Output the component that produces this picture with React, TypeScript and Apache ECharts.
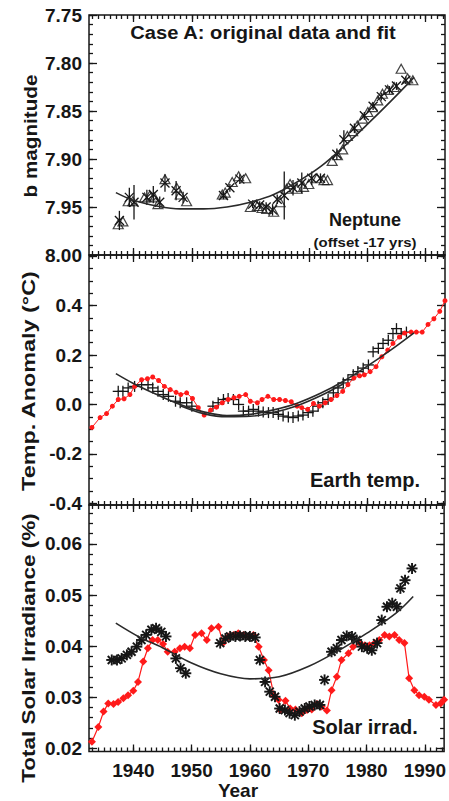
import React, { useEffect, useRef } from 'react';
import * as echarts from 'echarts';

// ---------------- data ----------------
// Panel 1: Neptune b magnitude (offset -17 yrs)
const NEP_TRI: [number, number][] = [
  [1937.4, 7.968], [1938.2, 7.965], [1939.1, 7.944], [1939.9, 7.944], [1941.9, 7.940], [1942.8, 7.938],
  [1943.6, 7.940], [1944.2, 7.947], [1945.4, 7.921], [1947.4, 7.930], [1948.0, 7.937], [1949.1, 7.944],
  [1955.2, 7.937], [1955.7, 7.935], [1956.9, 7.924], [1958.0, 7.918], [1959.2, 7.920], [1960.0, 7.950],
  [1961.2, 7.949], [1962.0, 7.951], [1962.8, 7.952], [1964.0, 7.955], [1965.1, 7.945], [1966.2, 7.931],
  [1966.8, 7.926], [1968.0, 7.931], [1969.1, 7.929], [1970.0, 7.926], [1971.4, 7.920], [1972.6, 7.922],
  [1973.2, 7.922], [1974.0, 7.902], [1974.9, 7.896], [1975.8, 7.890], [1976.6, 7.876], [1977.5, 7.871],
  [1978.3, 7.865], [1979.2, 7.858], [1980.1, 7.851], [1980.9, 7.846], [1981.8, 7.839], [1982.6, 7.832],
  [1983.5, 7.828], [1984.6, 7.825], [1985.8, 7.806], [1986.9, 7.816], [1987.8, 7.818],
];
// [year, magnitude, error]
const NEP_X: [number, number, number][] = [
  [1937.6, 7.964, 0.010], [1939.3, 7.940, 0.010], [1940.1, 7.945, 0.018], [1942.3, 7.940, 0.008],
  [1943.4, 7.937, 0.009], [1944.5, 7.945, 0.006], [1945.4, 7.925, 0.009], [1947.3, 7.933, 0.010],
  [1948.5, 7.940, 0.006], [1955.4, 7.938, 0.004], [1956.5, 7.930, 0.004], [1958.2, 7.921, 0.005],
  [1960.4, 7.947, 0.004], [1961.6, 7.948, 0.004], [1962.7, 7.950, 0.005], [1963.8, 7.953, 0.006],
  [1964.6, 7.942, 0.005], [1965.8, 7.938, 0.025], [1967.3, 7.930, 0.008], [1968.8, 7.925, 0.011],
  [1970.5, 7.920, 0.007], [1972.0, 7.920, 0.005], [1974.8, 7.895, 0.006], [1976.0, 7.880, 0.010],
  [1977.8, 7.868, 0.005], [1979.5, 7.855, 0.004], [1981.0, 7.845, 0.004], [1982.4, 7.835, 0.004],
  [1983.8, 7.828, 0.004], [1985.0, 7.824, 0.004], [1986.6, 7.818, 0.004],
];
const NEP_FIT: [number, number][] = [
  [1937, 7.935], [1940, 7.943], [1944, 7.949], [1948, 7.952], [1952, 7.952], [1956, 7.950], [1960, 7.945],
  [1964, 7.937], [1968, 7.924], [1972, 7.908], [1976, 7.887], [1980, 7.864], [1984, 7.840], [1988, 7.815],
];

// Panel 2: Earth temperature anomaly
const TEMP_RED: [number, number][] = [
  [1932.9, -0.093], [1934.3, -0.053], [1935.4, -0.037], [1936.4, -0.007], [1937.4, 0.020], [1938.4, 0.023],
  [1939.4, 0.040], [1940.2, 0.073], [1941.4, 0.100], [1942.4, 0.104], [1943.3, 0.111], [1944.3, 0.097],
  [1945.3, 0.073], [1946.3, 0.060], [1947.3, 0.049], [1948.1, 0.040], [1949.1, 0.047], [1950.1, 0.024],
  [1951.1, -0.013], [1952.1, -0.043], [1953.2, -0.023], [1954.2, -0.011], [1955.2, 0.007], [1956.2, 0.020],
  [1957.2, 0.027], [1958.1, 0.033], [1959.2, 0.040], [1960.0, 0.013], [1961.2, 0.007], [1962.0, 0.020],
  [1963.0, 0.033], [1964.0, 0.020], [1965.0, 0.020], [1966.0, 0.016], [1967.0, 0.011], [1968.0, -0.007],
  [1968.8, -0.013], [1969.8, -0.020], [1970.8, 0.004], [1971.8, -0.007], [1972.8, 0.007], [1973.8, 0.020],
  [1974.8, 0.036], [1975.8, 0.053], [1976.7, 0.080], [1977.7, 0.107], [1978.7, 0.116], [1979.5, 0.120],
  [1980.5, 0.133], [1981.5, 0.153], [1982.5, 0.193], [1983.5, 0.220], [1984.4, 0.247], [1985.5, 0.273],
  [1986.4, 0.289], [1987.5, 0.293], [1988.4, 0.293], [1989.4, 0.293], [1990.4, 0.324], [1991.4, 0.347],
  [1992.4, 0.377], [1993.3, 0.420],
];
const TEMP_PLUS: [number, number][] = [
  [1937.4, 0.053], [1938.2, 0.053], [1939.1, 0.067], [1940.2, 0.073], [1941.4, 0.080], [1942.5, 0.080],
  [1943.3, 0.067], [1944.2, 0.053], [1945.1, 0.040], [1946.0, 0.033], [1947.2, 0.013], [1948.0, 0.007],
  [1949.1, 0.007], [1950.0, -0.007], [1953.6, -0.007], [1954.5, 0.007], [1955.4, 0.020], [1956.2, 0.024],
  [1957.1, 0.020], [1958.0, 0.000], [1958.8, -0.027], [1959.7, -0.027], [1960.5, -0.020], [1961.4, -0.027],
  [1962.2, -0.031], [1963.1, -0.033], [1963.9, -0.033], [1964.8, -0.040], [1965.6, -0.047], [1966.5, -0.051],
  [1967.3, -0.053], [1968.2, -0.047], [1969.0, -0.043], [1969.9, -0.033], [1970.7, -0.027], [1971.6, -0.007],
  [1972.4, 0.007], [1973.3, 0.020], [1974.2, 0.047], [1975.0, 0.067], [1975.9, 0.087], [1976.7, 0.100],
  [1977.6, 0.120], [1978.4, 0.133], [1979.3, 0.147], [1980.2, 0.160], [1981.0, 0.213], [1981.9, 0.227],
  [1982.7, 0.247], [1983.6, 0.260], [1984.4, 0.287], [1985.0, 0.307], [1985.8, 0.287], [1986.7, 0.293],
];
const TEMP_FIT_A: [number, number][] = [
  [1937, 0.125], [1940, 0.085], [1944, 0.040], [1948, 0.000], [1952, -0.030], [1956, -0.045], [1960, -0.040],
  [1964, -0.022], [1968, 0.005], [1972, 0.045], [1976, 0.095], [1980, 0.155], [1984, 0.220], [1988, 0.290],
];
const TEMP_FIT_B: [number, number][] = [
  [1948, -0.005], [1952, -0.037], [1956, -0.050], [1960, -0.048], [1964, -0.032], [1968, -0.005],
  [1972, 0.035], [1976, 0.085],
];

// Panel 3: Total solar irradiance
const TSI_RED: [number, number][] = [
  [1932.9, 0.0213], [1934.0, 0.0242], [1934.9, 0.0272], [1935.7, 0.0288], [1936.6, 0.0287], [1937.4, 0.0291],
  [1938.3, 0.0298], [1939.1, 0.0304], [1940.0, 0.0313], [1940.8, 0.0330], [1941.7, 0.0370], [1942.5, 0.0396],
  [1943.3, 0.0412], [1944.2, 0.0412], [1945.1, 0.0404], [1945.9, 0.0389], [1947.1, 0.0389], [1948.0, 0.0396],
  [1948.8, 0.0399], [1949.7, 0.0396], [1950.6, 0.0422], [1951.7, 0.0425], [1952.6, 0.0412], [1953.4, 0.0435],
  [1954.6, 0.0438], [1955.4, 0.0406], [1956.3, 0.0419], [1957.2, 0.0422], [1958.0, 0.0425], [1958.9, 0.0422],
  [1959.8, 0.0419], [1960.6, 0.0422], [1961.5, 0.0399], [1962.4, 0.0373], [1963.2, 0.0353], [1964.1, 0.0304],
  [1964.9, 0.0295], [1965.2, 0.0275], [1966.1, 0.0293], [1966.9, 0.0278], [1967.8, 0.0276], [1968.9, 0.0269],
  [1969.8, 0.0275], [1970.6, 0.0276], [1971.5, 0.0287], [1972.3, 0.0282], [1973.2, 0.0274], [1974.0, 0.0314],
  [1974.9, 0.0340], [1975.7, 0.0373], [1976.9, 0.0386], [1977.7, 0.0399], [1978.8, 0.0406], [1979.7, 0.0402],
  [1980.5, 0.0402], [1981.4, 0.0406], [1982.2, 0.0412], [1983.1, 0.0422], [1983.9, 0.0419], [1984.8, 0.0422],
  [1985.6, 0.0412], [1986.5, 0.0406], [1987.3, 0.0337], [1988.2, 0.0314], [1989.0, 0.0304], [1989.9, 0.0301],
  [1990.7, 0.0295], [1991.9, 0.0285], [1992.7, 0.0288], [1993.3, 0.0295],
];
const TSI_STAR: [number, number][] = [
  [1936.3, 0.0373], [1937.2, 0.0373], [1938.0, 0.0376], [1938.9, 0.0383], [1939.7, 0.0389], [1940.6, 0.0399],
  [1941.4, 0.0412], [1942.2, 0.0422], [1943.1, 0.0432], [1943.9, 0.0435], [1944.8, 0.0428], [1945.6, 0.0419],
  [1947.3, 0.0376], [1948.1, 0.0357], [1949.0, 0.0347], [1954.9, 0.0406], [1955.8, 0.0415], [1956.6, 0.0419],
  [1957.5, 0.0419], [1958.3, 0.0420], [1959.2, 0.0419], [1960.0, 0.0419], [1960.9, 0.0417], [1961.7, 0.0373],
  [1962.6, 0.0330], [1963.4, 0.0311], [1964.3, 0.0301], [1965.1, 0.0278], [1966.0, 0.0275], [1966.8, 0.0269],
  [1967.7, 0.0265], [1968.5, 0.0272], [1969.4, 0.0278], [1970.2, 0.0282], [1971.1, 0.0285], [1972.0, 0.0285],
  [1972.8, 0.0334], [1974.0, 0.0389], [1974.9, 0.0396], [1975.7, 0.0412], [1976.6, 0.0420], [1977.5, 0.0419],
  [1978.3, 0.0412], [1979.2, 0.0399], [1980.1, 0.0396], [1980.9, 0.0392], [1981.8, 0.0406], [1982.6, 0.0451],
  [1983.5, 0.0477], [1984.4, 0.0484], [1985.2, 0.0477], [1985.8, 0.0513], [1986.6, 0.0529], [1987.8, 0.0552],
];
const TSI_FIT: [number, number][] = [
  [1937, 0.0445], [1941, 0.0418], [1945, 0.0397], [1950, 0.0367], [1955, 0.0346], [1960, 0.0336],
  [1965, 0.0340], [1970, 0.0360], [1975, 0.0390], [1980, 0.0425], [1985, 0.0464], [1988, 0.0497],
];

// tick labels
const YEAR_TICKS = [1940, 1950, 1960, 1970, 1980, 1990];
const MAG_TICKS = [7.75, 7.8, 7.85, 7.9, 7.95, 8.0];
const TEMP_TICKS = [-0.4, -0.2, 0, 0.2, 0.4, 0.6];
const TEMP_LABELS = [-0.4, -0.2, 0, 0.2, 0.4];
const TSI_TICKS = [0.02, 0.03, 0.04, 0.05, 0.06];

// ---------------- layout / style ----------------
const W = 449;
const H = 801;
const FONT = "'Liberation Sans', Arial, Helvetica, sans-serif";
const INK = '#161616';
const RED = '#ff1a1a';
const X_MIN = 1932.4;
const X_MAX = 1993.3;
const GRID_LEFT = 89;
const GRID_W = 356;
const GRIDS = [
  { top: 15, height: 240, min: 7.75, max: 8.0, inverse: true, major: MAG_TICKS, labels: MAG_TICKS, step: 0.01, dec: 2 },
  { top: 255, height: 250, min: -0.407, max: 0.605, inverse: false, major: TEMP_TICKS, labels: TEMP_LABELS, step: 0.05, dec: 1 },
  { top: 505, height: 246.5, min: 0.0194, max: 0.0676, inverse: false, major: TSI_TICKS, labels: TSI_TICKS, step: 0.002, dec: 2 },
];

function steps(a: number, b: number, s: number): number[] {
  const out: number[] = [];
  const n = Math.round((b - a) / s);
  for (let i = 0; i <= n; i++) out.push(+(a + i * s).toFixed(6));
  return out;
}
const YEAR_MINOR = steps(1933, 1993, 1);

const tickStyle = { color: INK, width: 1.3 };
const labelStyle = { color: INK, fontFamily: FONT, fontWeight: 'bold' as const, fontSize: 19 };
const noLine = { show: false, onZero: false };

function buildXAxes(g: number, showLabels: boolean) {
  const base = {
    type: 'value', gridIndex: g, min: X_MIN, max: X_MAX,
    splitLine: { show: false }, axisLine: noLine,
  };
  return [
    { ...base, position: 'bottom',
      axisTick: { inside: true, length: 7, customValues: YEAR_TICKS, lineStyle: tickStyle },
      axisLabel: { show: showLabels, customValues: YEAR_TICKS, margin: 9, ...labelStyle, formatter: (v: number) => String(Math.round(v)) } },
    { ...base, position: 'bottom',
      axisTick: { inside: true, length: 4, customValues: YEAR_MINOR, lineStyle: tickStyle },
      axisLabel: { show: false } },
    { ...base, position: 'top',
      axisTick: { inside: true, length: 7, customValues: YEAR_TICKS, lineStyle: tickStyle },
      axisLabel: { show: false } },
    { ...base, position: 'top',
      axisTick: { inside: true, length: 4, customValues: YEAR_MINOR, lineStyle: tickStyle },
      axisLabel: { show: false } },
  ];
}

function buildYAxes(g: number) {
  const c = GRIDS[g];
  const minor = steps(c.major[0] - c.step * 5, c.major[c.major.length - 1] + c.step * 5, c.step)
    .filter((v) => v >= Math.min(c.min, c.max) && v <= Math.max(c.min, c.max));
  const base = {
    type: 'value', gridIndex: g, min: c.min, max: c.max, inverse: c.inverse,
    splitLine: { show: false }, axisLine: noLine,
  };
  return [
    { ...base, position: 'left',
      axisTick: { inside: true, length: 8, customValues: c.major, lineStyle: tickStyle },
      axisLabel: { show: true, customValues: c.labels, margin: 7, ...labelStyle, formatter: (v: number) => v.toFixed(c.dec) } },
    { ...base, position: 'left',
      axisTick: { inside: true, length: 4, customValues: minor, lineStyle: tickStyle },
      axisLabel: { show: false } },
    { ...base, position: 'right',
      axisTick: { inside: true, length: 8, customValues: c.major, lineStyle: tickStyle },
      axisLabel: { show: false } },
    { ...base, position: 'right',
      axisTick: { inside: true, length: 4, customValues: minor, lineStyle: tickStyle },
      axisLabel: { show: false } },
  ];
}

type Shape = 'xbar' | 'plus' | 'star';
function glyphSeries(g: number, data: number[][], shape: Shape) {
  return {
    type: 'custom',
    xAxisIndex: g * 4,
    yAxisIndex: g * 4,
    data,
    encode: { x: 0, y: 1 },
    z: 3,
    renderItem: (_params: any, api: any) => {
      const xv = api.value(0);
      const yv = api.value(1);
      const p = api.coord([xv, yv]);
      const st = { stroke: INK, lineWidth: shape === 'star' ? 1.9 : 1.3 };
      const ln = (x1: number, y1: number, x2: number, y2: number) => ({
        type: 'line', shape: { x1, y1, x2, y2 }, style: st,
      });
      const children: any[] = [];
      if (shape === 'xbar') {
        const e = api.value(2);
        const a = api.coord([xv, yv - e]);
        const b = api.coord([xv, yv + e]);
        children.push(ln(a[0], a[1], b[0], b[1]));
        const s = 4.5;
        children.push(ln(p[0] - s, p[1] - s, p[0] + s, p[1] + s));
        children.push(ln(p[0] - s, p[1] + s, p[0] + s, p[1] - s));
      } else if (shape === 'plus') {
        const s = 5.5;
        children.push(ln(p[0] - s, p[1], p[0] + s, p[1]));
        children.push(ln(p[0], p[1] - s, p[0], p[1] + s));
      } else {
        const s = 5.5;
        const d = 4;
        children.push(ln(p[0] - s, p[1], p[0] + s, p[1]));
        children.push(ln(p[0], p[1] - s, p[0], p[1] + s));
        children.push(ln(p[0] - d, p[1] - d, p[0] + d, p[1] + d));
        children.push(ln(p[0] - d, p[1] + d, p[0] + d, p[1] - d));
      }
      return { type: 'group', children };
    },
  };
}

function fitSeries(g: number, data: [number, number][]) {
  return {
    type: 'line', xAxisIndex: g * 4, yAxisIndex: g * 4, data, smooth: 0.35,
    showSymbol: false, symbol: 'none', z: 4,
    lineStyle: { color: '#2a2a2a', width: 1.6 },
  };
}

function textEl(text: string, x: number, y: number, size: number, opts: any = {}) {
  return {
    type: 'text', x, y, rotation: opts.rotation || 0, scaleX: opts.scaleX || 1, z: 10,
    style: {
      text, fill: INK, fontFamily: FONT, fontWeight: 'bold', fontSize: size,
      align: 'center', verticalAlign: 'middle',
    },
  };
}

const option: any = {
  animation: false,
  backgroundColor: '#ffffff',
  grid: GRIDS.map((c) => ({
    left: GRID_LEFT, top: c.top, width: GRID_W, height: c.height,
    show: true, borderColor: INK, borderWidth: 1.5, backgroundColor: 'transparent', containLabel: false,
  })),
  xAxis: [...buildXAxes(0, false), ...buildXAxes(1, false), ...buildXAxes(2, true)],
  yAxis: [...buildYAxes(0), ...buildYAxes(1), ...buildYAxes(2)],
  series: [
    // Neptune
    {
      type: 'scatter', xAxisIndex: 0, yAxisIndex: 0, data: NEP_TRI, symbol: 'triangle', symbolSize: [10, 9],
      itemStyle: { color: 'rgba(255,255,255,0)', borderColor: INK, borderWidth: 1.2 }, z: 3,
    },
    glyphSeries(0, NEP_X, 'xbar'),
    fitSeries(0, NEP_FIT),
    // Earth temperature
    glyphSeries(1, TEMP_PLUS, 'plus'),
    {
      type: 'line', xAxisIndex: 4, yAxisIndex: 4, data: TEMP_RED, symbol: 'circle', symbolSize: 5, z: 3,
      itemStyle: { color: RED }, lineStyle: { color: RED, width: 1 },
    },
    fitSeries(1, TEMP_FIT_A),
    fitSeries(1, TEMP_FIT_B),
    // Solar irradiance
    {
      type: 'line', xAxisIndex: 8, yAxisIndex: 8, data: TSI_RED, symbol: 'diamond', symbolSize: 8, z: 2,
      itemStyle: { color: RED }, lineStyle: { color: RED, width: 1.2 },
    },
    glyphSeries(2, TSI_STAR, 'star'),
    fitSeries(2, TSI_FIT),
  ],
  graphic: [
    textEl('Case A: original data and fit', 263, 32, 19, { scaleX: 1.06 }),
    textEl('Neptune', 365, 220, 18),
    textEl('(offset -17 yrs)', 365, 242, 13, { scaleX: 1.15 }),
    textEl('Earth temp.', 365, 480, 20),
    textEl('Solar irrad.', 365, 727, 20),
    textEl('Year', 238, 790, 19),
    textEl('b magnitude', 31, 136, 18, { rotation: Math.PI / 2, scaleX: 1.15 }),
    textEl('Temp. Anomaly (°C)', 29, 381, 18, { rotation: Math.PI / 2, scaleX: 1.3 }),
    textEl('Total Solar Irradiance (%)', 29, 648, 18, { rotation: Math.PI / 2, scaleX: 1.25 }),
  ],
};

export default function App() {
  const ref = useRef<HTMLDivElement>(null);
  useEffect(() => {
    if (!ref.current) return;
    const chart = echarts.init(ref.current, null, { renderer: 'svg', width: W, height: H });
    chart.setOption(option);
    return () => chart.dispose();
  }, []);
  return (
    <div
      ref={ref}
      style={{ position: 'fixed', left: 0, top: 0, width: W, height: H, background: '#fff' }}
    />
  );
}
